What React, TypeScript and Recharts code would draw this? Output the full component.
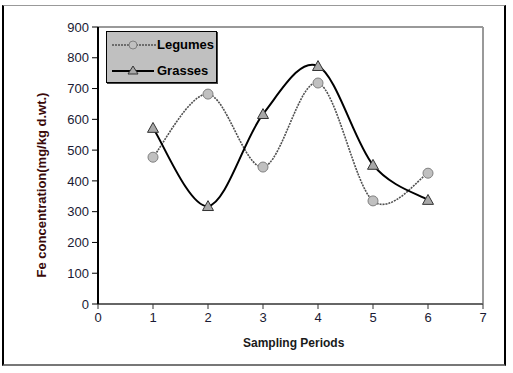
import React from 'react';
import { LineChart, Line, XAxis, YAxis, ReferenceLine } from 'recharts';

const periods = [1, 2, 3, 4, 5, 6];
const legumes = [477, 682, 445, 718, 335, 425];
const grasses = [572, 318, 617, 773, 452, 338];
const xTicks = [0, 1, 2, 3, 4, 5, 6, 7];
const yTicks = [0, 100, 200, 300, 400, 500, 600, 700, 800, 900];

const data = periods.map((p, i) => ({ period: p, legumes: legumes[i], grasses: grasses[i] }));

function excelCurve(context: any) {
  let pts: [number, number][] = [];
  return {
    areaStart() {},
    areaEnd() {},
    lineStart() {
      pts = [];
    },
    lineEnd() {
      const n = pts.length;
      if (n === 0) return;
      context.moveTo(pts[0][0], pts[0][1]);
      for (let i = 0; i < n - 1; i++) {
        const p0 = pts[Math.max(i - 1, 0)];
        const p1 = pts[i];
        const p2 = pts[i + 1];
        const p3 = pts[Math.min(i + 2, n - 1)];
        context.bezierCurveTo(
          p1[0] + (p2[0] - p0[0]) / 6,
          p1[1] + (p2[1] - p0[1]) / 6,
          p2[0] - (p3[0] - p1[0]) / 6,
          p2[1] - (p3[1] - p1[1]) / 6,
          p2[0],
          p2[1]
        );
      }
    },
    point(x: number, y: number) {
      pts.push([+x, +y]);
    },
  };
}

const CircleDot = (props: any) => {
  const { cx, cy, index } = props;
  return <circle key={`c${index}`} cx={cx} cy={cy} r={5} fill="#c0c0c0" stroke="#808080" strokeWidth={1} />;
};

const TriDot = (props: any) => {
  const { cx, cy, index } = props;
  const s = 5.5;
  return (
    <polygon
      key={`t${index}`}
      points={`${cx},${cy - s} ${cx - s},${cy + s * 0.8} ${cx + s},${cy + s * 0.8}`}
      fill="#a8a8a8"
      stroke="#333"
      strokeWidth={1}
    />
  );
};

const tickStyle = { fontFamily: 'Arial, "Liberation Sans", sans-serif', fontSize: 13, fill: '#1a1a33' };

export default function App() {
  return (
    <div style={{ position: 'absolute', left: 0, top: 0, width: 513, height: 373, background: '#fff' }}>
      <div
        style={{
          position: 'absolute',
          left: 2,
          top: 5,
          width: 500,
          height: 358,
          borderLeft: '2px solid #000',
          borderRight: '2px solid #000',
          borderTop: '1.5px solid #999',
          borderBottom: '2px solid #777',
        }}
      />
      <div style={{ position: 'absolute', left: 0, top: 0 }}>
        <LineChart width={513} height={373} data={data} margin={{ top: 27, right: 30, bottom: 39, left: 58 }}>
          <XAxis
            dataKey="period"
            type="number"
            domain={[0, 7]}
            ticks={xTicks}
            height={30}
            tick={tickStyle}
            tickSize={5}
            tickMargin={4}
            axisLine={{ stroke: '#666', strokeWidth: 2 }}
            tickLine={{ stroke: '#333' }}
          />
          <YAxis
            type="number"
            domain={[0, 900]}
            ticks={yTicks}
            width={40}
            tick={tickStyle}
            tickSize={6}
            tickMargin={3}
            axisLine={{ stroke: '#000', strokeWidth: 2 }}
            tickLine={{ stroke: '#000' }}
          />
          <ReferenceLine y={900} stroke="#999" strokeWidth={2} />
          <ReferenceLine x={7} stroke="#999" strokeWidth={2} />
          <Line
            dataKey="legumes"
            type={excelCurve as any}
            stroke="#505050"
            strokeWidth={1.6}
            strokeDasharray="2 1"
            dot={CircleDot}
            activeDot={false}
            isAnimationActive={false}
          />
          <Line
            dataKey="grasses"
            type={excelCurve as any}
            stroke="#000"
            strokeWidth={2}
            dot={TriDot}
            activeDot={false}
            isAnimationActive={false}
          />
        </LineChart>
      </div>
      <div
        style={{
          position: 'absolute',
          left: 106,
          top: 31,
          width: 109,
          height: 50,
          background: '#c0c0c0',
          border: '1px solid #000',
          boxShadow: '1px 1px 0 #444',
          fontFamily: 'Arial, "Liberation Sans", sans-serif',
          fontWeight: 'bold',
          fontSize: 13,
          color: '#000',
        }}
      >
        <svg width={50} height={50} style={{ position: 'absolute', left: 0, top: 0 }}>
          <line x1={5} y1={13} x2={49} y2={13} stroke="#505050" strokeWidth={1.6} strokeDasharray="2 1" />
          <circle cx={26} cy={13} r={4} fill="#c0c0c0" stroke="#808080" />
          <line x1={5} y1={39} x2={47} y2={39} stroke="#000" strokeWidth={2} />
          <polygon points="26,34 21,42 31,42" fill="#a8a8a8" stroke="#333" />
        </svg>
        <div style={{ position: 'absolute', left: 50, top: 5, lineHeight: '15px' }}>Legumes</div>
        <div style={{ position: 'absolute', left: 50, top: 31, lineHeight: '15px' }}>Grasses</div>
      </div>
      <div
        style={{
          position: 'absolute',
          left: 243,
          top: 336,
          fontFamily: 'Arial, "Liberation Sans", sans-serif',
          fontWeight: 'bold',
          fontSize: 12,
          color: '#1a1a1a',
          whiteSpace: 'nowrap',
        }}
      >
        Sampling Periods
      </div>
      <div
        style={{
          position: 'absolute',
          left: 41,
          top: 185,
          transform: 'translate(-50%, -50%) rotate(-90deg)',
          fontFamily: 'Arial, "Liberation Sans", sans-serif',
          fontWeight: 'bold',
          fontSize: 13,
          color: '#3a0a0a',
          whiteSpace: 'nowrap',
        }}
      >
        Fe concentration(mg/kg d.wt.)
      </div>
    </div>
  );
}
